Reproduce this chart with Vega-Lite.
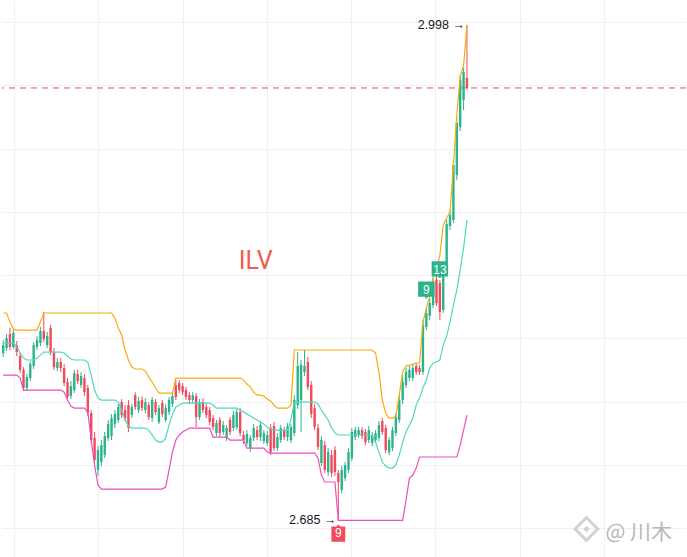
{
  "$schema": "https://vega.github.io/schema/vega-lite/v6.json",
  "width": 687,
  "height": 557,
  "autosize": {"type": "fit", "contains": "padding"},
  "padding": 0,
  "background": "#ffffff",
  "config": {
    "view": {"stroke": null},
    "axis": {"labels": false, "ticks": false, "domain": false, "title": null, "grid": true, "gridColor": "#f1f1f3", "gridWidth": 1, "minExtent": 0, "maxExtent": 0, "labelPadding": 0}
  },
  "datasets": {
    "bars": [
      {"i":0,"o":2.7908,"h":2.7990,"l":2.7883,"c":2.7958,"u":2.8161,"m":2.7971,"d":2.7769},
      {"i":1,"o":2.7939,"h":2.8028,"l":2.7921,"c":2.8003,"u":2.8161,"m":2.7971,"d":2.7769},
      {"i":2,"o":2.8028,"h":2.8066,"l":2.7927,"c":2.7946,"u":2.8104,"m":2.7971,"d":2.7769},
      {"i":3,"o":2.7946,"h":2.8053,"l":2.7933,"c":2.8034,"u":2.8060,"m":2.7971,"d":2.7769},
      {"i":4,"o":2.7958,"h":2.7984,"l":2.7889,"c":2.7914,"u":2.8053,"m":2.7952,"d":2.7769},
      {"i":5,"o":2.7889,"h":2.7914,"l":2.7782,"c":2.7801,"u":2.8053,"m":2.7908,"d":2.7750},
      {"i":6,"o":2.7801,"h":2.7819,"l":2.7668,"c":2.7687,"u":2.8053,"m":2.7876,"d":2.7674},
      {"i":7,"o":2.7687,"h":2.7775,"l":2.7668,"c":2.7756,"u":2.8053,"m":2.7864,"d":2.7674},
      {"i":8,"o":2.7750,"h":2.7857,"l":2.7731,"c":2.7838,"u":2.8053,"m":2.7864,"d":2.7674},
      {"i":9,"o":2.7826,"h":2.7977,"l":2.7807,"c":2.7958,"u":2.8053,"m":2.7864,"d":2.7674},
      {"i":10,"o":2.7946,"h":2.8015,"l":2.7927,"c":2.7990,"u":2.8053,"m":2.7876,"d":2.7674},
      {"i":11,"o":2.7971,"h":2.8072,"l":2.7952,"c":2.8047,"u":2.8104,"m":2.7895,"d":2.7674},
      {"i":12,"o":2.8047,"h":2.8167,"l":2.7977,"c":2.7996,"u":2.8161,"m":2.7914,"d":2.7674},
      {"i":13,"o":2.7958,"h":2.8041,"l":2.7939,"c":2.8015,"u":2.8161,"m":2.7914,"d":2.7674},
      {"i":14,"o":2.8066,"h":2.8085,"l":2.7895,"c":2.7914,"u":2.8161,"m":2.7914,"d":2.7674},
      {"i":15,"o":2.7914,"h":2.7939,"l":2.7801,"c":2.7819,"u":2.8161,"m":2.7914,"d":2.7674},
      {"i":16,"o":2.7813,"h":2.7876,"l":2.7794,"c":2.7851,"u":2.8161,"m":2.7914,"d":2.7674},
      {"i":17,"o":2.7851,"h":2.7876,"l":2.7788,"c":2.7813,"u":2.8161,"m":2.7914,"d":2.7674},
      {"i":18,"o":2.7813,"h":2.7838,"l":2.7699,"c":2.7718,"u":2.8161,"m":2.7908,"d":2.7661},
      {"i":19,"o":2.7725,"h":2.7750,"l":2.7611,"c":2.7630,"u":2.8161,"m":2.7889,"d":2.7611},
      {"i":20,"o":2.7636,"h":2.7731,"l":2.7617,"c":2.7699,"u":2.8161,"m":2.7870,"d":2.7573},
      {"i":21,"o":2.7674,"h":2.7801,"l":2.7655,"c":2.7782,"u":2.8161,"m":2.7864,"d":2.7560},
      {"i":22,"o":2.7775,"h":2.7801,"l":2.7712,"c":2.7731,"u":2.8161,"m":2.7864,"d":2.7560},
      {"i":23,"o":2.7706,"h":2.7788,"l":2.7687,"c":2.7763,"u":2.8161,"m":2.7864,"d":2.7560},
      {"i":24,"o":2.7750,"h":2.7775,"l":2.7636,"c":2.7661,"u":2.8161,"m":2.7864,"d":2.7560},
      {"i":25,"o":2.7687,"h":2.7706,"l":2.7510,"c":2.7529,"u":2.8161,"m":2.7851,"d":2.7535},
      {"i":26,"o":2.7529,"h":2.7548,"l":2.7333,"c":2.7358,"u":2.8161,"m":2.7769,"d":2.7358},
      {"i":27,"o":2.7371,"h":2.7409,"l":2.7206,"c":2.7232,"u":2.8161,"m":2.7674,"d":2.7200},
      {"i":28,"o":2.7169,"h":2.7320,"l":2.7131,"c":2.7295,"u":2.8161,"m":2.7623,"d":2.7074},
      {"i":29,"o":2.7219,"h":2.7358,"l":2.7194,"c":2.7326,"u":2.8161,"m":2.7611,"d":2.7048},
      {"i":30,"o":2.7263,"h":2.7409,"l":2.7244,"c":2.7383,"u":2.8161,"m":2.7611,"d":2.7048},
      {"i":31,"o":2.7371,"h":2.7485,"l":2.7352,"c":2.7459,"u":2.8161,"m":2.7611,"d":2.7048},
      {"i":32,"o":2.7383,"h":2.7522,"l":2.7358,"c":2.7497,"u":2.8161,"m":2.7611,"d":2.7048},
      {"i":33,"o":2.7459,"h":2.7548,"l":2.7434,"c":2.7522,"u":2.8129,"m":2.7611,"d":2.7048},
      {"i":34,"o":2.7485,"h":2.7586,"l":2.7466,"c":2.7567,"u":2.8066,"m":2.7598,"d":2.7048},
      {"i":35,"o":2.7598,"h":2.7617,"l":2.7497,"c":2.7516,"u":2.8022,"m":2.7548,"d":2.7048},
      {"i":36,"o":2.7548,"h":2.7579,"l":2.7478,"c":2.7497,"u":2.7927,"m":2.7485,"d":2.7048},
      {"i":37,"o":2.7579,"h":2.7611,"l":2.7409,"c":2.7434,"u":2.7864,"m":2.7447,"d":2.7048},
      {"i":38,"o":2.7516,"h":2.7586,"l":2.7497,"c":2.7567,"u":2.7819,"m":2.7434,"d":2.7048},
      {"i":39,"o":2.7642,"h":2.7661,"l":2.7548,"c":2.7567,"u":2.7807,"m":2.7434,"d":2.7048},
      {"i":40,"o":2.7548,"h":2.7630,"l":2.7529,"c":2.7605,"u":2.7807,"m":2.7434,"d":2.7048},
      {"i":41,"o":2.7611,"h":2.7636,"l":2.7541,"c":2.7560,"u":2.7807,"m":2.7434,"d":2.7048},
      {"i":42,"o":2.7548,"h":2.7623,"l":2.7529,"c":2.7598,"u":2.7794,"m":2.7434,"d":2.7048},
      {"i":43,"o":2.7579,"h":2.7598,"l":2.7485,"c":2.7503,"u":2.7756,"m":2.7421,"d":2.7048},
      {"i":44,"o":2.7497,"h":2.7630,"l":2.7472,"c":2.7611,"u":2.7725,"m":2.7390,"d":2.7048},
      {"i":45,"o":2.7598,"h":2.7617,"l":2.7516,"c":2.7535,"u":2.7687,"m":2.7358,"d":2.7048},
      {"i":46,"o":2.7472,"h":2.7579,"l":2.7459,"c":2.7560,"u":2.7655,"m":2.7345,"d":2.7048},
      {"i":47,"o":2.7592,"h":2.7611,"l":2.7503,"c":2.7522,"u":2.7655,"m":2.7345,"d":2.7048},
      {"i":48,"o":2.7485,"h":2.7586,"l":2.7472,"c":2.7560,"u":2.7655,"m":2.7371,"d":2.7061},
      {"i":49,"o":2.7535,"h":2.7630,"l":2.7516,"c":2.7611,"u":2.7655,"m":2.7453,"d":2.7169},
      {"i":50,"o":2.7586,"h":2.7661,"l":2.7567,"c":2.7636,"u":2.7655,"m":2.7522,"d":2.7282},
      {"i":51,"o":2.7706,"h":2.7737,"l":2.7611,"c":2.7630,"u":2.7750,"m":2.7567,"d":2.7358},
      {"i":52,"o":2.7718,"h":2.7737,"l":2.7655,"c":2.7674,"u":2.7750,"m":2.7579,"d":2.7390},
      {"i":53,"o":2.7699,"h":2.7718,"l":2.7642,"c":2.7661,"u":2.7750,"m":2.7592,"d":2.7409},
      {"i":54,"o":2.7674,"h":2.7693,"l":2.7611,"c":2.7630,"u":2.7750,"m":2.7592,"d":2.7421},
      {"i":55,"o":2.7642,"h":2.7661,"l":2.7592,"c":2.7611,"u":2.7750,"m":2.7592,"d":2.7434},
      {"i":56,"o":2.7611,"h":2.7661,"l":2.7592,"c":2.7642,"u":2.7750,"m":2.7592,"d":2.7434},
      {"i":57,"o":2.7636,"h":2.7655,"l":2.7440,"c":2.7503,"u":2.7750,"m":2.7592,"d":2.7434},
      {"i":58,"o":2.7503,"h":2.7617,"l":2.7485,"c":2.7598,"u":2.7750,"m":2.7592,"d":2.7434},
      {"i":59,"o":2.7598,"h":2.7623,"l":2.7529,"c":2.7548,"u":2.7750,"m":2.7592,"d":2.7434},
      {"i":60,"o":2.7567,"h":2.7586,"l":2.7497,"c":2.7516,"u":2.7750,"m":2.7592,"d":2.7434},
      {"i":61,"o":2.7548,"h":2.7567,"l":2.7453,"c":2.7472,"u":2.7750,"m":2.7592,"d":2.7434},
      {"i":62,"o":2.7497,"h":2.7516,"l":2.7421,"c":2.7440,"u":2.7750,"m":2.7579,"d":2.7377},
      {"i":63,"o":2.7402,"h":2.7485,"l":2.7383,"c":2.7466,"u":2.7750,"m":2.7560,"d":2.7377},
      {"i":64,"o":2.7485,"h":2.7503,"l":2.7377,"c":2.7402,"u":2.7750,"m":2.7560,"d":2.7377},
      {"i":65,"o":2.7409,"h":2.7478,"l":2.7390,"c":2.7453,"u":2.7750,"m":2.7560,"d":2.7377},
      {"i":66,"o":2.7371,"h":2.7453,"l":2.7352,"c":2.7434,"u":2.7750,"m":2.7560,"d":2.7377},
      {"i":67,"o":2.7485,"h":2.7503,"l":2.7390,"c":2.7409,"u":2.7750,"m":2.7560,"d":2.7358},
      {"i":68,"o":2.7434,"h":2.7541,"l":2.7415,"c":2.7516,"u":2.7750,"m":2.7560,"d":2.7358},
      {"i":69,"o":2.7440,"h":2.7554,"l":2.7421,"c":2.7535,"u":2.7750,"m":2.7560,"d":2.7358},
      {"i":70,"o":2.7535,"h":2.7560,"l":2.7383,"c":2.7402,"u":2.7750,"m":2.7548,"d":2.7358},
      {"i":71,"o":2.7390,"h":2.7415,"l":2.7333,"c":2.7358,"u":2.7737,"m":2.7535,"d":2.7358},
      {"i":72,"o":2.7339,"h":2.7421,"l":2.7320,"c":2.7396,"u":2.7712,"m":2.7522,"d":2.7307},
      {"i":73,"o":2.7307,"h":2.7390,"l":2.7282,"c":2.7371,"u":2.7693,"m":2.7510,"d":2.7307},
      {"i":74,"o":2.7371,"h":2.7459,"l":2.7352,"c":2.7434,"u":2.7661,"m":2.7497,"d":2.7307},
      {"i":75,"o":2.7421,"h":2.7447,"l":2.7358,"c":2.7377,"u":2.7642,"m":2.7485,"d":2.7307},
      {"i":76,"o":2.7377,"h":2.7478,"l":2.7352,"c":2.7453,"u":2.7642,"m":2.7472,"d":2.7307},
      {"i":77,"o":2.7352,"h":2.7421,"l":2.7333,"c":2.7402,"u":2.7636,"m":2.7459,"d":2.7307},
      {"i":78,"o":2.7339,"h":2.7415,"l":2.7320,"c":2.7390,"u":2.7617,"m":2.7440,"d":2.7282},
      {"i":79,"o":2.7434,"h":2.7459,"l":2.7263,"c":2.7282,"u":2.7605,"m":2.7428,"d":2.7276},
      {"i":80,"o":2.7447,"h":2.7472,"l":2.7289,"c":2.7307,"u":2.7579,"m":2.7421,"d":2.7276},
      {"i":81,"o":2.7307,"h":2.7402,"l":2.7289,"c":2.7377,"u":2.7560,"m":2.7421,"d":2.7276},
      {"i":82,"o":2.7358,"h":2.7453,"l":2.7339,"c":2.7434,"u":2.7560,"m":2.7421,"d":2.7276},
      {"i":83,"o":2.7421,"h":2.7440,"l":2.7358,"c":2.7377,"u":2.7560,"m":2.7421,"d":2.7276},
      {"i":84,"o":2.7377,"h":2.7466,"l":2.7352,"c":2.7447,"u":2.7560,"m":2.7421,"d":2.7276},
      {"i":85,"o":2.7358,"h":2.7459,"l":2.7339,"c":2.7440,"u":2.7579,"m":2.7485,"d":2.7276},
      {"i":86,"o":2.7402,"h":2.7642,"l":2.7383,"c":2.7611,"u":2.7927,"m":2.7598,"d":2.7276},
      {"i":87,"o":2.7579,"h":2.7914,"l":2.7554,"c":2.7826,"u":2.7927,"m":2.7598,"d":2.7276},
      {"i":88,"o":2.7611,"h":2.7864,"l":2.7409,"c":2.7832,"u":2.7927,"m":2.7598,"d":2.7276},
      {"i":89,"o":2.7788,"h":2.7927,"l":2.7763,"c":2.7826,"u":2.7927,"m":2.7598,"d":2.7276},
      {"i":90,"o":2.7851,"h":2.7883,"l":2.7674,"c":2.7693,"u":2.7927,"m":2.7598,"d":2.7276},
      {"i":91,"o":2.7706,"h":2.7731,"l":2.7497,"c":2.7522,"u":2.7927,"m":2.7598,"d":2.7276},
      {"i":92,"o":2.7560,"h":2.7586,"l":2.7421,"c":2.7440,"u":2.7927,"m":2.7598,"d":2.7276},
      {"i":93,"o":2.7434,"h":2.7459,"l":2.7295,"c":2.7314,"u":2.7927,"m":2.7586,"d":2.7244},
      {"i":94,"o":2.7213,"h":2.7383,"l":2.7194,"c":2.7358,"u":2.7927,"m":2.7548,"d":2.7137},
      {"i":95,"o":2.7326,"h":2.7352,"l":2.7150,"c":2.7169,"u":2.7927,"m":2.7516,"d":2.7093},
      {"i":96,"o":2.7156,"h":2.7307,"l":2.7131,"c":2.7282,"u":2.7927,"m":2.7485,"d":2.7093},
      {"i":97,"o":2.7263,"h":2.7295,"l":2.7124,"c":2.7150,"u":2.7927,"m":2.7434,"d":2.7093},
      {"i":98,"o":2.7295,"h":2.7320,"l":2.7131,"c":2.7156,"u":2.7927,"m":2.7402,"d":2.7093},
      {"i":99,"o":2.7150,"h":2.7169,"l":2.6850,"c":2.7093,"u":2.7927,"m":2.7390,"d":2.6850},
      {"i":100,"o":2.7042,"h":2.7194,"l":2.7023,"c":2.7169,"u":2.7927,"m":2.7390,"d":2.6850},
      {"i":101,"o":2.7118,"h":2.7219,"l":2.7099,"c":2.7200,"u":2.7927,"m":2.7390,"d":2.6850},
      {"i":102,"o":2.7169,"h":2.7307,"l":2.7150,"c":2.7282,"u":2.7927,"m":2.7390,"d":2.6850},
      {"i":103,"o":2.7244,"h":2.7434,"l":2.7225,"c":2.7409,"u":2.7927,"m":2.7390,"d":2.6850},
      {"i":104,"o":2.7377,"h":2.7440,"l":2.7358,"c":2.7421,"u":2.7927,"m":2.7390,"d":2.6850},
      {"i":105,"o":2.7390,"h":2.7440,"l":2.7371,"c":2.7421,"u":2.7927,"m":2.7390,"d":2.6850},
      {"i":106,"o":2.7421,"h":2.7440,"l":2.7364,"c":2.7383,"u":2.7927,"m":2.7390,"d":2.6850},
      {"i":107,"o":2.7409,"h":2.7428,"l":2.7326,"c":2.7345,"u":2.7927,"m":2.7390,"d":2.6850},
      {"i":108,"o":2.7358,"h":2.7447,"l":2.7339,"c":2.7421,"u":2.7927,"m":2.7390,"d":2.6850},
      {"i":109,"o":2.7339,"h":2.7409,"l":2.7320,"c":2.7390,"u":2.7927,"m":2.7383,"d":2.6850},
      {"i":110,"o":2.7358,"h":2.7421,"l":2.7339,"c":2.7402,"u":2.7908,"m":2.7345,"d":2.6850},
      {"i":111,"o":2.7371,"h":2.7478,"l":2.7352,"c":2.7453,"u":2.7788,"m":2.7282,"d":2.6850},
      {"i":112,"o":2.7478,"h":2.7497,"l":2.7390,"c":2.7409,"u":2.7611,"m":2.7219,"d":2.6850},
      {"i":113,"o":2.7434,"h":2.7453,"l":2.7276,"c":2.7295,"u":2.7529,"m":2.7194,"d":2.6850},
      {"i":114,"o":2.7282,"h":2.7377,"l":2.7263,"c":2.7358,"u":2.7497,"m":2.7181,"d":2.6850},
      {"i":115,"o":2.7307,"h":2.7440,"l":2.7289,"c":2.7421,"u":2.7497,"m":2.7181,"d":2.6850},
      {"i":116,"o":2.7402,"h":2.7529,"l":2.7383,"c":2.7503,"u":2.7510,"m":2.7200,"d":2.6850},
      {"i":117,"o":2.7485,"h":2.7642,"l":2.7466,"c":2.7611,"u":2.7642,"m":2.7263,"d":2.6850},
      {"i":118,"o":2.7611,"h":2.7769,"l":2.7586,"c":2.7725,"u":2.7788,"m":2.7345,"d":2.6850},
      {"i":119,"o":2.7706,"h":2.7813,"l":2.7687,"c":2.7788,"u":2.7826,"m":2.7409,"d":2.6979},
      {"i":120,"o":2.7750,"h":2.7826,"l":2.7731,"c":2.7801,"u":2.7832,"m":2.7453,"d":2.7118},
      {"i":121,"o":2.7750,"h":2.7838,"l":2.7731,"c":2.7813,"u":2.7838,"m":2.7497,"d":2.7137},
      {"i":122,"o":2.7826,"h":2.7845,"l":2.7769,"c":2.7788,"u":2.7845,"m":2.7579,"d":2.7181},
      {"i":123,"o":2.7813,"h":2.7832,"l":2.7769,"c":2.7788,"u":2.7845,"m":2.7623,"d":2.7251},
      {"i":124,"o":2.7788,"h":2.8117,"l":2.7769,"c":2.8085,"u":2.8104,"m":2.7687,"d":2.7251},
      {"i":125,"o":2.8072,"h":2.8192,"l":2.8053,"c":2.8161,"u":2.8192,"m":2.7737,"d":2.7251},
      {"i":126,"o":2.8142,"h":2.8256,"l":2.8117,"c":2.8224,"u":2.8268,"m":2.7813,"d":2.7251},
      {"i":127,"o":2.8211,"h":2.8382,"l":2.8192,"c":2.8357,"u":2.8388,"m":2.7845,"d":2.7251},
      {"i":128,"o":2.8369,"h":2.8395,"l":2.8205,"c":2.8224,"u":2.8433,"m":2.7851,"d":2.7251},
      {"i":129,"o":2.8350,"h":2.8369,"l":2.8117,"c":2.8167,"u":2.8527,"m":2.7864,"d":2.7251},
      {"i":130,"o":2.8180,"h":2.8483,"l":2.8161,"c":2.8464,"u":2.8717,"m":2.7958,"d":2.7251},
      {"i":131,"o":2.8433,"h":2.8749,"l":2.8407,"c":2.8723,"u":2.8761,"m":2.8015,"d":2.7251},
      {"i":132,"o":2.8711,"h":2.8812,"l":2.8685,"c":2.8780,"u":2.8799,"m":2.8104,"d":2.7251},
      {"i":133,"o":2.8749,"h":2.9128,"l":2.8730,"c":2.9096,"u":2.9096,"m":2.8211,"d":2.7251},
      {"i":134,"o":2.9033,"h":2.9393,"l":2.9001,"c":2.9362,"u":2.9412,"m":2.8306,"d":2.7251},
      {"i":135,"o":2.9336,"h":2.9659,"l":2.9311,"c":2.9633,"u":2.9659,"m":2.8433,"d":2.7326},
      {"i":136,"o":2.9507,"h":2.9709,"l":2.9444,"c":2.9684,"u":2.9722,"m":2.8572,"d":2.7421},
      {"i":137,"o":2.9646,"h":2.9980,"l":2.9570,"c":2.9583,"u":2.9980,"m":2.8749,"d":2.7516}
    ]
  },
  "layer": [
    {
      "data": {"values": [{"p": 2.9583}]},
      "mark": {"type": "rule", "color": "#e8505b", "strokeDash": [6, 5], "strokeWidth": 1},
      "encoding": {
        "y": {"field": "p", "type": "quantitative", "scale": {"domain": [2.6619, 3.0139], "nice": false, "zero": false, "padding": 0}, "axis": {"values": [2.68, 2.7, 2.72, 2.74, 2.76, 2.78, 2.8, 2.82, 2.84, 2.86, 2.88, 2.9, 2.92, 2.94, 2.96, 2.98, 3.0]}}
      }
    },
    {
      "data": {"name": "bars"},
      "encoding": {
        "x": {"field": "i", "type": "quantitative", "scale": {"domain": [-0.353, 201.706], "nice": false, "zero": false, "padding": 0}, "axis": {"values": [3.2, 28.1, 53.0, 77.9, 102.8, 127.7, 152.6, 177.5]}}
      },
      "layer": [
        {
          "mark": {"type": "rule", "strokeWidth": 1},
          "encoding": {
            "y": {"field": "l", "type": "quantitative"},
            "y2": {"field": "h"},
            "color": {"condition": {"test": "datum.c >= datum.o", "value": "#2bb48c"}, "value": "#ef4b5a"}
          }
        },
        {
          "mark": {"type": "bar", "width": 2.4},
          "encoding": {
            "y": {"field": "o", "type": "quantitative"},
            "y2": {"field": "c"},
            "color": {"condition": {"test": "datum.c >= datum.o", "value": "#2bb48c"}, "value": "#ef4b5a"}
          }
        },
        {
          "mark": {"type": "line", "color": "#f7ab0f", "strokeWidth": 1.2},
          "encoding": {"y": {"field": "u", "type": "quantitative"}}
        },
        {
          "mark": {"type": "line", "color": "#4fd8bf", "strokeWidth": 1.2},
          "encoding": {"y": {"field": "m", "type": "quantitative"}}
        },
        {
          "mark": {"type": "line", "color": "#e94fc0", "strokeWidth": 1.2},
          "encoding": {"y": {"field": "d", "type": "quantitative"}}
        },
        {
          "data": {"values": [
            {"i": 137, "p": 2.998, "t": "2.998 →"},
            {"i": 99, "p": 2.685, "t": "2.685 →"}
          ]},
          "mark": {"type": "text", "align": "right", "baseline": "middle", "dx": -2, "font": "Liberation Sans", "fontSize": 12.5, "color": "#131722"},
          "encoding": {"y": {"field": "p", "type": "quantitative"}, "text": {"field": "t"}}
        },
        {
          "data": {"values": [
            {"i": 99, "p": 2.677, "t": "9", "k": "dn"},
            {"i": 125, "p": 2.8306, "t": "9", "k": "up"},
            {"i": 129, "p": 2.8433, "t": "13", "k": "up"}
          ]},
          "layer": [
            {
              "transform": [{"filter": "datum.k == 'up'"}],
              "mark": {"type": "point", "shape": "M-0.95,-1H0.95V0.76H0.22L0,1L-0.22,0.76H-0.95Z", "filled": true, "opacity": 1, "size": 300, "color": "#2bb48c"},
              "encoding": {"y": {"field": "p", "type": "quantitative"}}
            },
            {
              "transform": [{"filter": "datum.k == 'dn'"}],
              "mark": {"type": "point", "shape": "M-0.8,-0.76H-0.22L0,-1L0.22,-0.76H0.8V1H-0.8Z", "filled": true, "opacity": 1, "size": 300, "color": "#ef4b5a"},
              "encoding": {"y": {"field": "p", "type": "quantitative"}}
            },
            {
              "mark": {"type": "text", "color": "#ffffff", "fontSize": 12, "font": "Liberation Sans", "baseline": "middle", "align": "center"},
              "encoding": {"y": {"field": "p", "type": "quantitative"}, "text": {"field": "t"}}
            }
          ]
        },
        {
          "data": {"values": [{"i": 74.6, "p": 2.849, "t": "ILV"}]},
          "mark": {"type": "text", "font": "Roboto", "fontSize": 25, "color": "#f25b50", "baseline": "middle", "align": "center"},
          "encoding": {"y": {"field": "p", "type": "quantitative"}, "text": {"field": "t"}}
        },
        {
          "data": {"values": [{"i": 172.3, "p": 2.6796}]},
          "layer": [
            {
              "mark": {"type": "point", "shape": "diamond", "filled": false, "size": 520, "stroke": "#d2d2d2", "strokeWidth": 3, "opacity": 1},
              "encoding": {"y": {"field": "p", "type": "quantitative"}}
            },
            {
              "mark": {"type": "point", "shape": "diamond", "filled": true, "size": 45, "color": "#d2d2d2", "opacity": 1},
              "encoding": {"y": {"field": "p", "type": "quantitative"}}
            }
          ]
        },
        {
          "data": {"values": [{"i": 177.9, "p": 2.677, "t": "@ 川木"}]},
          "mark": {"type": "text", "font": "Noto Sans CJK SC", "fontSize": 21, "color": "#b8b8b8", "baseline": "middle", "align": "left"},
          "encoding": {"y": {"field": "p", "type": "quantitative"}, "text": {"field": "t"}}
        }
      ]
    }
  ]
}
